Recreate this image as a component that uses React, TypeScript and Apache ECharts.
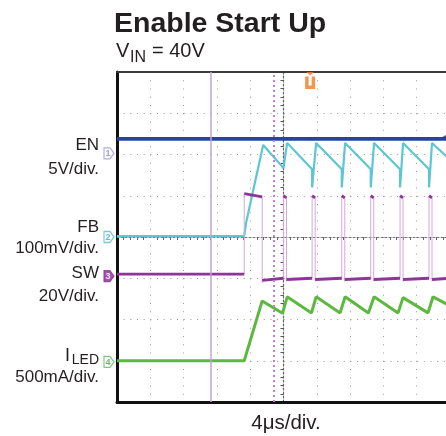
import React, { useEffect, useRef } from 'react';
import * as echarts from 'echarts';

// Texts
const titleText = 'Enable Start Up';
const vinMain = 'V';
const vinSub = 'IN';
const vinRest = '= 40V';
const channelNames = ['EN', 'FB', 'SW'];
const iledMain = 'I';
const iledSub = 'LED';
const channelScales = ['5V/div.', '100mV/div.', '20V/div.', '500mA/div.'];
const timeScale = '4μs/div.';

// Coordinates: x in divisions from screen centre (-5..5), y in divisions from centre (-4..4)
const enTrace = [[-5, 2.38], [5, 2.38]];

const fbTrace = [
  [-5, 0.02], [-1.18, 0.02], [-1.12, 0.36], [-0.61, 2.23],
  [0.0, 1.67], [0.11, 2.28],
  [0.86, 1.64], [0.86, 1.2], [0.98, 2.28],
  [1.75, 1.64], [1.75, 1.2], [1.85, 2.28],
  [2.62, 1.64], [2.62, 1.2], [2.72, 2.28],
  [3.5, 1.64], [3.5, 1.2], [3.59, 2.28],
  [4.37, 1.64], [4.37, 1.2], [4.46, 2.28],
  [5, 1.87],
];

const swLevels = [
  [-5, -0.9], [-1.18, -0.9], null,
  [-1.18, 1.05], [-0.64, 0.97], null,
  [-0.64, -1.05], [0.0, -1.0], null,
  [0.0, 1.0], [0.09, 0.95], null,
  [0.09, -1.03], [0.86, -1.0], null,
  [0.86, 1.0], [0.95, 0.95], null,
  [0.95, -1.03], [1.75, -1.0], null,
  [1.75, 1.0], [1.84, 0.95], null,
  [1.84, -1.03], [2.62, -1.0], null,
  [2.62, 1.0], [2.71, 0.95], null,
  [2.71, -1.03], [3.5, -1.0], null,
  [3.5, 1.0], [3.59, 0.95], null,
  [3.59, -1.03], [4.37, -1.0], null,
  [4.37, 1.0], [4.46, 0.95], null,
  [4.46, -1.03], [5, -1.0],
];

const swEdges = [
  [-1.18, -0.9], [-1.18, 1.05], null,
  [-0.64, 0.97], [-0.64, -1.12], null,
  [0.0, -1.0], [0.0, 1.0], null,
  [0.09, 0.95], [0.09, -1.08], null,
  [0.86, -1.0], [0.86, 1.0], null,
  [0.95, 0.95], [0.95, -1.08], null,
  [1.75, -1.0], [1.75, 1.0], null,
  [1.84, 0.95], [1.84, -1.08], null,
  [2.62, -1.0], [2.62, 1.0], null,
  [2.71, 0.95], [2.71, -1.08], null,
  [3.5, -1.0], [3.5, 1.0], null,
  [3.59, 0.95], [3.59, -1.08], null,
  [4.37, -1.0], [4.37, 1.0], null,
  [4.46, 0.95], [4.46, -1.08],
];

const iledTrace = [
  [-5, -3.0], [-1.18, -3.0], [-0.64, -1.55],
  [-0.03, -1.85], [0.11, -1.45],
  [0.84, -1.84], [0.98, -1.45],
  [1.7, -1.84], [1.85, -1.45],
  [2.55, -1.84], [2.72, -1.45],
  [3.44, -1.84], [3.59, -1.47],
  [4.34, -1.84], [4.49, -1.45],
  [5, -1.67],
];

const channelGrounds = [2.03, 0.0, -0.95, -3.03];
const channelMarkerLabels = ['1', '2', '3', '4'];
const cursorSolidX = -2.17;
const cursorDottedX = -0.28;
const triggerX = 0.8;
const enLevelMarker = [4.86, 2.42];

const FONT = "'Liberation Sans', Arial, Helvetica, sans-serif";
const TEXT = '#231f20';

const frameAxis = (position: string, color: string, width: number) => ({
  type: 'value', position, min: position === 'left' ? -4 : -5, max: position === 'left' ? 4 : 5,
  axisLine: { show: true, onZero: false, lineStyle: { color, width } },
  axisTick: { show: false }, axisLabel: { show: false }, splitLine: { show: false },
});

export default function App() {
  const ref = useRef<HTMLDivElement>(null);
  useEffect(() => {
    if (!ref.current) return;
    const chart = echarts.init(ref.current, undefined, { renderer: 'svg' });

    const markerStyles = [
      { fill: '#ffffff', stroke: '#9898d4', text: '#8585c8' },
      { fill: '#ffffff', stroke: '#4fbfcc', text: '#36aebe' },
      { fill: '#8b2d95', stroke: '#8b2d95', text: '#ffffff' },
      { fill: '#ffffff', stroke: '#5cba5c', text: '#4aa84a' },
    ];

    const leftText = (text: string, y: number, size = 17) => ({
      type: 'text', x: 99, y,
      style: { text, fill: TEXT, fontSize: size, fontFamily: FONT, align: 'right', verticalAlign: 'middle' },
    });

    chart.setOption({
      animation: false,
      grid: {
        left: 117, top: 72, width: 333, height: 330,
        outerBoundsMode: 'none', containLabel: false,
      },
      xAxis: [
        {
          type: 'value', min: -5, max: 5, interval: 1,
          axisLine: { onZero: true, lineStyle: { color: '#777', width: 1, type: [2, 2] } },
          axisTick: { show: false },
          minorTick: { show: true, splitNumber: 5, length: 3, lineStyle: { color: '#666' } },
          splitLine: { show: true, lineStyle: { color: '#999', width: 1, type: [1, 7.25] } },
          axisLabel: { show: false },
        },
        frameAxis('bottom', '#111', 3),
        frameAxis('top', '#3a3a3a', 2),
      ],
      yAxis: [
        {
          type: 'value', min: -4, max: 4, interval: 1,
          axisLine: { onZero: true, lineStyle: { color: '#666', width: 1.2, type: [2, 2] } },
          axisTick: { show: false },
          minorTick: { show: true, splitNumber: 5, length: 3, lineStyle: { color: '#555' } },
          splitLine: { show: true, lineStyle: { color: '#999', width: 1, type: [1, 5.67] } },
          axisLabel: { show: false },
        },
        frameAxis('left', '#111', 3),
      ],
      series: [
        {
          type: 'line', data: [], z: 1, silent: true,
          markLine: {
            silent: true, symbol: 'none', label: { show: false },
            data: [
              { xAxis: cursorSolidX, lineStyle: { color: '#c9a2d6', width: 1.5, type: 'solid' } },
              { xAxis: cursorDottedX, lineStyle: { color: '#c27fd6', width: 2, type: [2, 3] } },
            ],
          },
        },
        {
          type: 'line', data: enTrace, showSymbol: false, z: 3,
          lineStyle: { color: '#2446a0', width: 3.8 },
        },
        {
          type: 'line', data: fbTrace, showSymbol: false, z: 3,
          lineStyle: { color: '#5ec6d2', width: 2.2 },
        },
        {
          type: 'line', data: swEdges, showSymbol: false, z: 3, connectNulls: false,
          lineStyle: { color: '#d6a6de', width: 1 },
        },
        {
          type: 'line', data: swLevels, showSymbol: false, z: 4, connectNulls: false,
          lineStyle: { color: '#8e3598', width: 2.8 },
        },
        {
          type: 'line', data: iledTrace, showSymbol: false, z: 3,
          lineStyle: { color: '#5cb83e', width: 3 },
        },
        {
          type: 'scatter', clip: false, z: 6, silent: true,
          symbol: 'path://M0,0 L6,0 L10,5 L6,10 L0,10 Z',
          symbolSize: [10, 11], symbolOffset: [-8, 0],
          data: channelGrounds.map((g, i) => ({
            value: [-5, g],
            itemStyle: { color: markerStyles[i].fill, borderColor: markerStyles[i].stroke, borderWidth: 1.2 },
            label: {
              show: true, formatter: channelMarkerLabels[i], position: 'inside', offset: [-1, 0],
              color: markerStyles[i].text, fontSize: 9, fontWeight: 'bold', fontFamily: FONT,
            },
          })),
        },
        {
          type: 'scatter', clip: false, z: 6, silent: true,
          symbol: 'path://M1,0 L9,0 L5,3 Z M0,4 L3.5,4 L3.5,12 L6.5,12 L6.5,4 L10,4 L10,15 L0,15 Z',
          symbolSize: [10, 17], symbolOffset: [0, 8.5],
          itemStyle: { color: '#f07a24' },
          data: [[triggerX, 4]],
        },
        {
          type: 'scatter', clip: false, z: 6, silent: true,
          symbol: 'triangle', symbolRotate: 90, symbolSize: [7, 7],
          itemStyle: { color: '#1e3c96' },
          data: [enLevelMarker],
        },
      ],
      graphic: [
        {
          type: 'text', x: 114, y: 21.5,
          style: { text: titleText, fill: TEXT, fontSize: 28.5, fontWeight: 'bold', fontFamily: FONT, align: 'left', verticalAlign: 'middle' },
        },
        {
          type: 'text', x: 116, y: 50,
          style: { text: vinMain, fill: TEXT, fontSize: 20, fontFamily: FONT, align: 'left', verticalAlign: 'middle' },
        },
        {
          type: 'text', x: 130, y: 56.5,
          style: { text: vinSub, fill: TEXT, fontSize: 16, fontFamily: FONT, align: 'left', verticalAlign: 'middle' },
        },
        {
          type: 'text', x: 152, y: 50,
          style: { text: vinRest, fill: TEXT, fontSize: 20, fontFamily: FONT, align: 'left', verticalAlign: 'middle' },
        },
        leftText(channelNames[0], 144),
        leftText(channelScales[0], 168.5),
        leftText(channelNames[1], 226),
        leftText(channelScales[1], 247.5),
        leftText(channelNames[2], 272.5),
        leftText(channelScales[2], 295),
        {
          type: 'text', x: 70, y: 354.5,
          style: { text: iledMain, fill: TEXT, fontSize: 18, fontFamily: FONT, align: 'right', verticalAlign: 'middle' },
        },
        leftText(iledSub, 358.5, 14),
        leftText(channelScales[3], 376),
        {
          type: 'text', x: 286, y: 421,
          style: { text: timeScale, fill: TEXT, fontSize: 20.5, fontFamily: FONT, align: 'center', verticalAlign: 'middle' },
        },
      ],
    });
    return () => chart.dispose();
  }, []);
  return <div ref={ref} style={{ position: 'fixed', left: 0, top: 0, width: 446, height: 436 }} />;
}
